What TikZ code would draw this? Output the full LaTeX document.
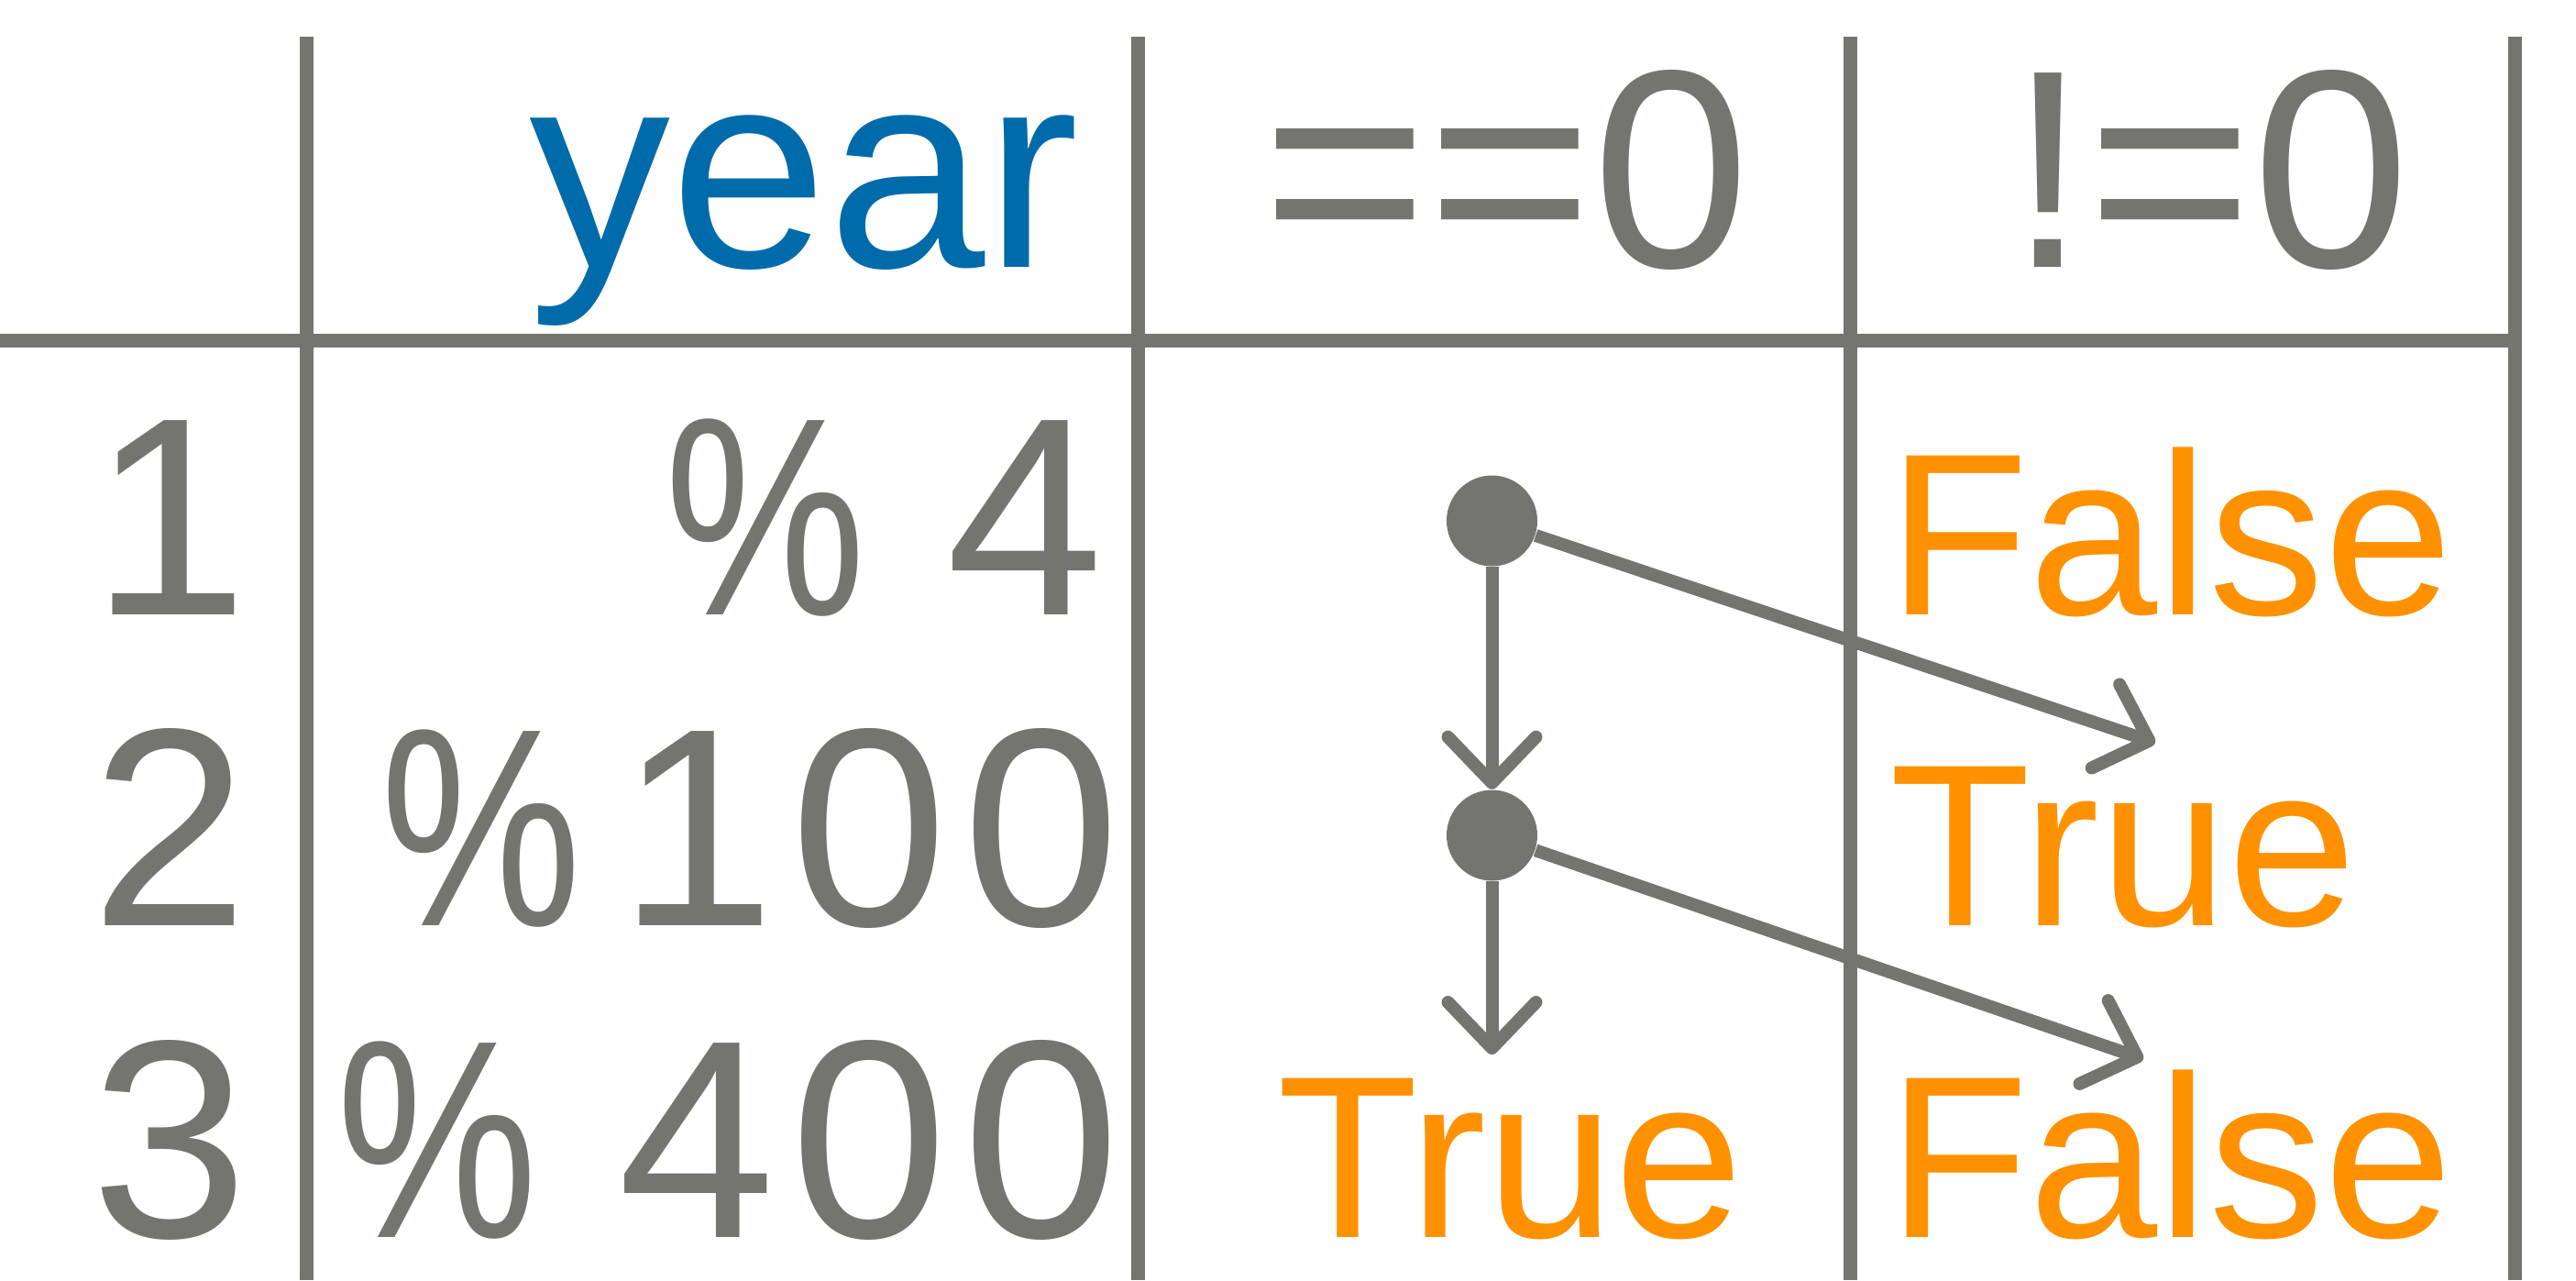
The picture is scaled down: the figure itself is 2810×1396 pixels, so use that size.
\documentclass[tikz,border=0pt]{standalone}
\usepackage{fontspec}
\usepackage{graphicx}
\setmainfont{Liberation Sans}
\newfontfamily\spacedfont[LetterSpace=5.5]{Liberation Sans}
\usetikzlibrary{arrows.meta}

\definecolor{gridgray}{RGB}{116,117,111}
\definecolor{yearblue}{RGB}{0,107,170}
\definecolor{boolorange}{RGB}{255,145,0}

% narrow percent sign with its gap
\newcommand{\pct}{\scalebox{0.8}[1]{\%}\kern22pt}

\begin{document}
\begin{tikzpicture}[x=0.25pt,y=-0.25pt,>={Straight Barb[length=12.5pt,width=24pt,round]}]
    \useasboundingbox (0,0) rectangle (2810,1396);

        % table rules
        \begin{scope}[color=gridgray,line width=3.75pt]
            \draw (334,40) -- (334,1396);
            \draw (1241,40) -- (1241,1396);
            \draw (2018,40) -- (2018,1396);
            \draw (2743,40) -- (2743,1396);
            \draw (0,371.5) -- (2750,371.5);
        \end{scope}

        \begin{scope}[every node/.style={inner sep=0pt,anchor=base,text=gridgray,font=\fontsize{77}{80}\selectfont}]
            \node[text=yearblue] (year) at (877.5,291) {year};
            \node (eq) at (1643,291) {==0};
            \node (ne) at (2410,291) {!=0};
            \node (1) at (185,670) {1};
            \node (2) at (185,1009) {2};
            \node (3) at (185,1349) {3};
        \end{scope}

        \begin{scope}[every node/.style={inner sep=0pt,anchor=base east,text=gridgray,font=\fontsize{77}{80}\spacedfont}]
            \node (m1) at (1205,670) {\pct4};
            \node (m2) at (1223,1009) {\pct\kern-12pt100};
            \node (m3) at (1223,1349) {\pct400};
        \end{scope}

        \begin{scope}[every node/.style={inner sep=0pt,anchor=base,text=boolorange,font=\fontsize{63}{66}\selectfont}]
            \node (f1) at (2368,670) {False};
            \node (t2) at (2316,1009) {True};
            \node (t3) at (1647.5,1349) {True};
            \node (f3) at (2368,1349) {False};
        \end{scope}

        \begin{scope}[every node/.style={circle,fill=gridgray,inner sep=0pt,minimum size=24.75pt}]
            \node (d1) at (1627.5,568) {};
            \node (d2) at (1627.5,911) {};
        \end{scope}
        \coordinate (e1) at (2351,810);
        \coordinate (e2) at (1627.5,1150);
        \coordinate (e3) at (2338,1155);

        \begin{scope}[every edge/.style={draw=gridgray,line width=3.5pt}]
            \path [->] (d1) edge (d2);
            \path [->] (d1) edge (e1);
            \path [->] (d2) edge (e2);
            \path [->] (d2) edge (e3);
        \end{scope}

\end{tikzpicture}
\end{document}
